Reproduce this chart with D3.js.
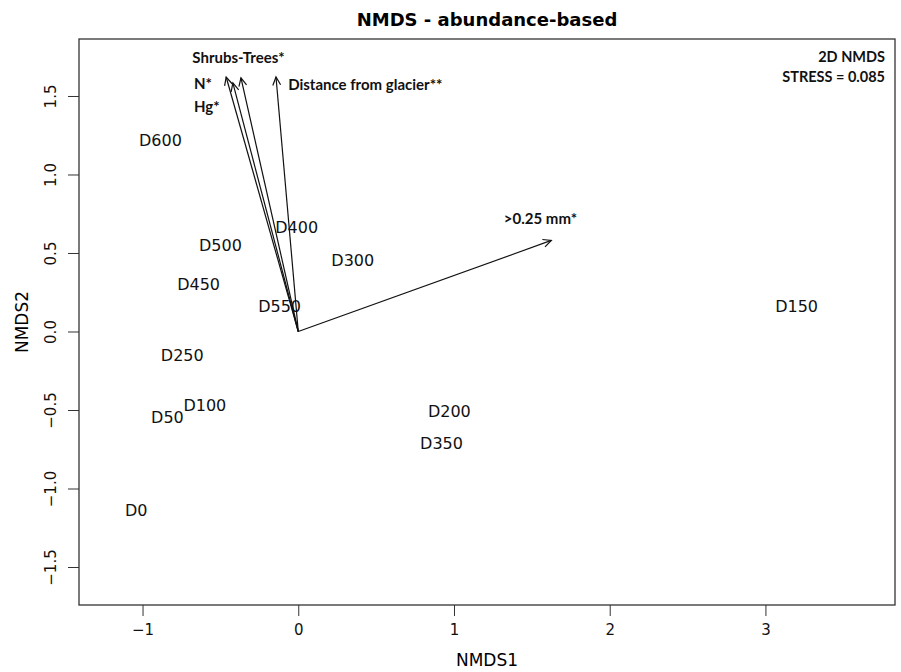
<!DOCTYPE html>
<html>
<head>
<meta charset="utf-8">
<script src="https://cdn.jsdelivr.net/npm/d3@7"></script>
<style>
  body { margin: 0; background: #fff; }
</style>
</head>
<body>
<div id="chart"></div>
<script>
// site scores (NMDS1, NMDS2)
var sites = ['D0', 'D50', 'D100', 'D150', 'D200', 'D250', 'D300', 'D350', 'D400', 'D450', 'D500', 'D550', 'D600'];
var nmds1 = [-1.04, -0.84, -0.60, 3.20, 0.97, -0.745, 0.35, 0.92, -0.01, -0.64, -0.50, -0.12, -0.885];
var nmds2 = [-1.14, -0.55, -0.47, 0.16, -0.51, -0.155, 0.45, -0.71, 0.66, 0.30, 0.55, 0.16, 1.22];

// fitted vectors (envfit arrows)
var vectors = ['N*', 'Hg*', 'Shrubs-Trees*', 'Distance from glacier**', '>0.25 mm*'];
var vecX = [-0.463, -0.42, -0.368, -0.143, 1.625];
var vecY = [1.621, 1.583, 1.615, 1.621, 0.58];
// label anchor points (data units)
var labX = [-0.67, -0.67, -0.68, -0.065, 1.32];
var labY = [1.58, 1.43, 1.745, 1.57, 0.72];

var xTicks = [-1, 0, 1, 2, 3];
var yTicks = [-1.5, -1.0, -0.5, 0.0, 0.5, 1.0, 1.5];
var stressLines = ['2D NMDS', 'STRESS = 0.085'];

var width = 901, height = 672;
var m = {left: 79, right: 6, top: 39, bottom: 67};

var svg = d3.select('#chart').append('svg')
            .attr('width', width).attr('height', height);

var x = d3.scaleLinear().domain([-1.408, 3.832]).range([m.left, width - m.right]);
var y = d3.scaleLinear().domain([-1.742, 1.863]).range([height - m.bottom, m.top]);

var axisColor = '#333';
var numFont = 'DejaVu Sans';

// axes
var gx = svg.append('g')
  .attr('transform', 'translate(0,' + (height - m.bottom) + ')')
  .call(d3.axisBottom(x).tickValues(xTicks).tickSize(11).tickPadding(8)
        .tickFormat(function(d){ return d < 0 ? '\u2212' + Math.abs(d) : d; }));
gx.select('.domain').remove();
gx.selectAll('line').attr('stroke', axisColor);
gx.selectAll('text').attr('font-family', numFont).attr('font-size', '15px').attr('fill', '#111');

var gy = svg.append('g')
  .attr('transform', 'translate(' + m.left + ',0)')
  .call(d3.axisLeft(y).tickValues(yTicks).tickSize(11).tickPadding(0)
        .tickFormat(function(d){ return (d < 0 ? '\u2212' : '') + Math.abs(d).toFixed(1); }));
gy.select('.domain').remove();
gy.selectAll('line').attr('stroke', axisColor);
gy.selectAll('text')
  .attr('font-family', numFont).attr('font-size', '15px').attr('fill', '#111')
  .attr('text-anchor', 'middle').attr('x', null)
  .attr('transform', 'translate(-28,0) rotate(-90)')
  .attr('dy', '0.35em');

// box
svg.append('rect')
   .attr('x', m.left).attr('y', m.top)
   .attr('width', width - m.left - m.right)
   .attr('height', height - m.top - m.bottom)
   .attr('fill', 'none').attr('stroke', axisColor).attr('stroke-width', 1.3);

// titles
svg.append('text')
   .attr('x', (m.left + width - m.right) / 2).attr('y', 26)
   .attr('text-anchor', 'middle')
   .attr('font-family', numFont).attr('font-weight', 'bold').attr('font-size', '18px')
   .text('NMDS - abundance-based');

svg.append('text')
   .attr('x', (m.left + width - m.right) / 2).attr('y', 666)
   .attr('text-anchor', 'middle')
   .attr('font-family', numFont).attr('font-size', '17px')
   .text('NMDS1');

svg.append('text')
   .attr('transform', 'translate(28,' + ((m.top + height - m.bottom) / 2) + ') rotate(-90)')
   .attr('text-anchor', 'middle')
   .attr('font-family', numFont).attr('font-size', '17px')
   .text('NMDS2');

// site labels
svg.selectAll('text.site').data(sites).enter().append('text')
   .attr('class', 'site')
   .attr('x', function(d, i){ return x(nmds1[i]); })
   .attr('y', function(d, i){ return y(nmds2[i]); })
   .attr('text-anchor', 'middle').attr('dy', '0.35em')
   .attr('font-family', numFont).attr('font-size', '16px').attr('fill', '#111')
   .text(function(d){ return d; });

// arrows
var arrows = svg.append('g').attr('stroke', '#111').attr('stroke-width', 1.2).attr('fill', 'none');
vectors.forEach(function(v, i){
  var x0 = x(0), y0 = y(0), x1 = x(vecX[i]), y1 = y(vecY[i]);
  var a = Math.atan2(y1 - y0, x1 - x0), len = 9, spread = Math.PI / 7;
  arrows.append('line').attr('x1', x0).attr('y1', y0).attr('x2', x1).attr('y2', y1);
  arrows.append('path')
    .attr('d', 'M' + (x1 - len * Math.cos(a - spread)) + ',' + (y1 - len * Math.sin(a - spread)) +
               'L' + x1 + ',' + y1 +
               'L' + (x1 - len * Math.cos(a + spread)) + ',' + (y1 - len * Math.sin(a + spread)));
});

svg.selectAll('text.vec').data(vectors).enter().append('text')
   .attr('class', 'vec')
   .attr('x', function(d, i){ return x(labX[i]); })
   .attr('y', function(d, i){ return y(labY[i]); })
   .attr('dy', '0.35em')
   .attr('font-family', 'Lato').attr('font-weight', 'bold').attr('font-size', '15px')
   .attr('fill', '#111')
   .text(function(d){ return d; });

// stress annotation
svg.selectAll('text.stress').data(stressLines).enter().append('text')
   .attr('class', 'stress')
   .attr('x', 885).attr('y', function(d, i){ return 57 + i * 20; })
   .attr('dy', '0.35em').attr('text-anchor', 'end')
   .attr('font-family', 'Lato').attr('font-weight', 'bold').attr('font-size', '14.5px')
   .attr('fill', '#111')
   .text(function(d){ return d; });
</script>
</body>
</html>
